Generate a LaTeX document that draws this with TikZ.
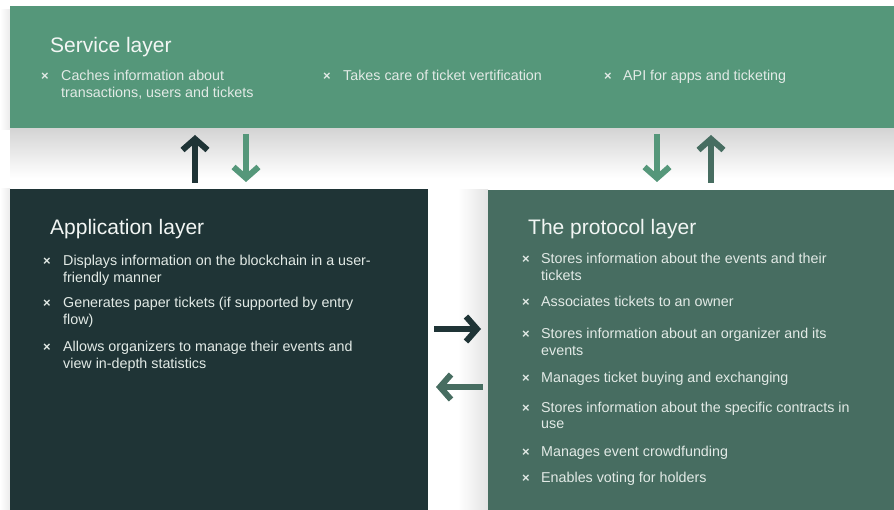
\documentclass[tikz,border=0pt]{standalone}
\usepackage{fontspec}
\setmainfont{Liberation Sans}
\usetikzlibrary{arrows.meta}
\definecolor{svcgreen}{HTML}{55977A}
\definecolor{appdark}{HTML}{1F3436}
\definecolor{protgreen}{HTML}{476D61}
\definecolor{titletext}{HTML}{F2F6F4}
\definecolor{itemtext}{HTML}{E2EAE6}

% one bullet point: name, bullet x, text x, baseline y of first line, text (lines split by \\)
\newcommand\layeritem[5]{%
  \node[bulletmark] (#1b) at (#2,#4) {\texttimes};
  \node[itemtext] (#1) at (#3,#4) {\begin{tabular}[t]{@{}l@{}}#5\end{tabular}};
}

\begin{document}
\begin{tikzpicture}[x=1pt,y=-1pt,
  layerbox/.style={draw=none},
  layertitle/.style={anchor=base west, inner sep=0pt, text=titletext,
    font=\fontsize{21}{24}\selectfont},
  itemtext/.style={anchor=base west, inner sep=0pt, text=itemtext,
    font=\fontsize{14.3}{16.7}\selectfont},
  bulletmark/.style={anchor=base, inner sep=0pt, text=itemtext,
    font=\fontsize{13}{14}\selectfont\bfseries},
  flow/.style={line width=6pt, -{Straight Barb[length=11pt,width=25pt]}},
]
\useasboundingbox (0,0) rectangle (894,510);
\fill[white] (0,0) rectangle (894,510);

% soft shadows
\shade[top color=black!17, bottom color=white] (10,128) rectangle (894,178);
\shade[left color=white, right color=black!11] (458,190) rectangle (488,510);
\shade[left color=white, right color=black!8] (0,10) rectangle (10,130);
\shade[left color=white, right color=black!8] (0,189) rectangle (10,510);

% the three layers
\fill[svcgreen] (10,6) rectangle (894,128);
\node[layerbox, minimum width=884pt, minimum height=122pt, anchor=north west] (svc) at (10,6) {};
\fill[appdark] (10,189) rectangle (428,510);
\node[layerbox, minimum width=418pt, minimum height=321pt, anchor=north west] (app) at (10,189) {};
\fill[protgreen] (488,190) rectangle (894,510);
\node[layerbox, minimum width=406pt, minimum height=320pt, anchor=north west] (prot) at (488,190) {};

% service layer
\node[layertitle] (svctitle) at (50,53) {Service layer};
\layeritem{s1}{45}{61}{81}{Caches information about\\transactions, users and tickets}
\layeritem{s2}{327}{343}{81}{Takes care of ticket vertification}
\layeritem{s3}{608}{623}{81}{API for apps and ticketing}

% application layer
\node[layertitle] (apptitle) at (50,235) {Application layer};
\layeritem{a1}{47}{63}{266}{Displays information on the blockchain in a user-\\friendly manner}
\layeritem{a2}{47}{63}{308}{Generates paper tickets (if supported by entry\\flow)}
\layeritem{a3}{47}{63}{352}{Allows organizers to manage their events and\\view in-depth statistics}

% protocol layer
\node[layertitle] (prottitle) at (528,235) {The protocol layer};
\layeritem{p1}{526}{541}{264}{Stores information about the events and their\\tickets}
\layeritem{p2}{526}{541}{307}{Associates tickets to an owner}
\layeritem{p3}{526}{541}{339}{Stores information about an organizer and its\\events}
\layeritem{p4}{526}{541}{382}{Manages ticket buying and exchanging}
\layeritem{p5}{526}{541}{412}{Stores information about the specific contracts in\\use}
\layeritem{p6}{526}{541}{456}{Manages event crowdfunding}
\layeritem{p7}{526}{541}{482}{Enables voting for holders}

% arrow ends between the layers
\coordinate (au0) at (195,183);  \coordinate (au1) at (195,135);
\coordinate (ad0) at (246,134);  \coordinate (ad1) at (246,182);
\coordinate (pd0) at (657,134);  \coordinate (pd1) at (657,182);
\coordinate (pu0) at (711,183);  \coordinate (pu1) at (711,135);
\coordinate (hr0) at (434,329);  \coordinate (hr1) at (481,329);
\coordinate (hl0) at (483,387);  \coordinate (hl1) at (436,387);

\draw[flow, appdark]   (au0) -- (au1);
\draw[flow, svcgreen]  (ad0) -- (ad1);
\draw[flow, svcgreen]  (pd0) -- (pd1);
\draw[flow, protgreen] (pu0) -- (pu1);
\draw[flow, appdark]   (hr0) -- (hr1);
\draw[flow, protgreen] (hl0) -- (hl1);
\end{tikzpicture}
\end{document}
